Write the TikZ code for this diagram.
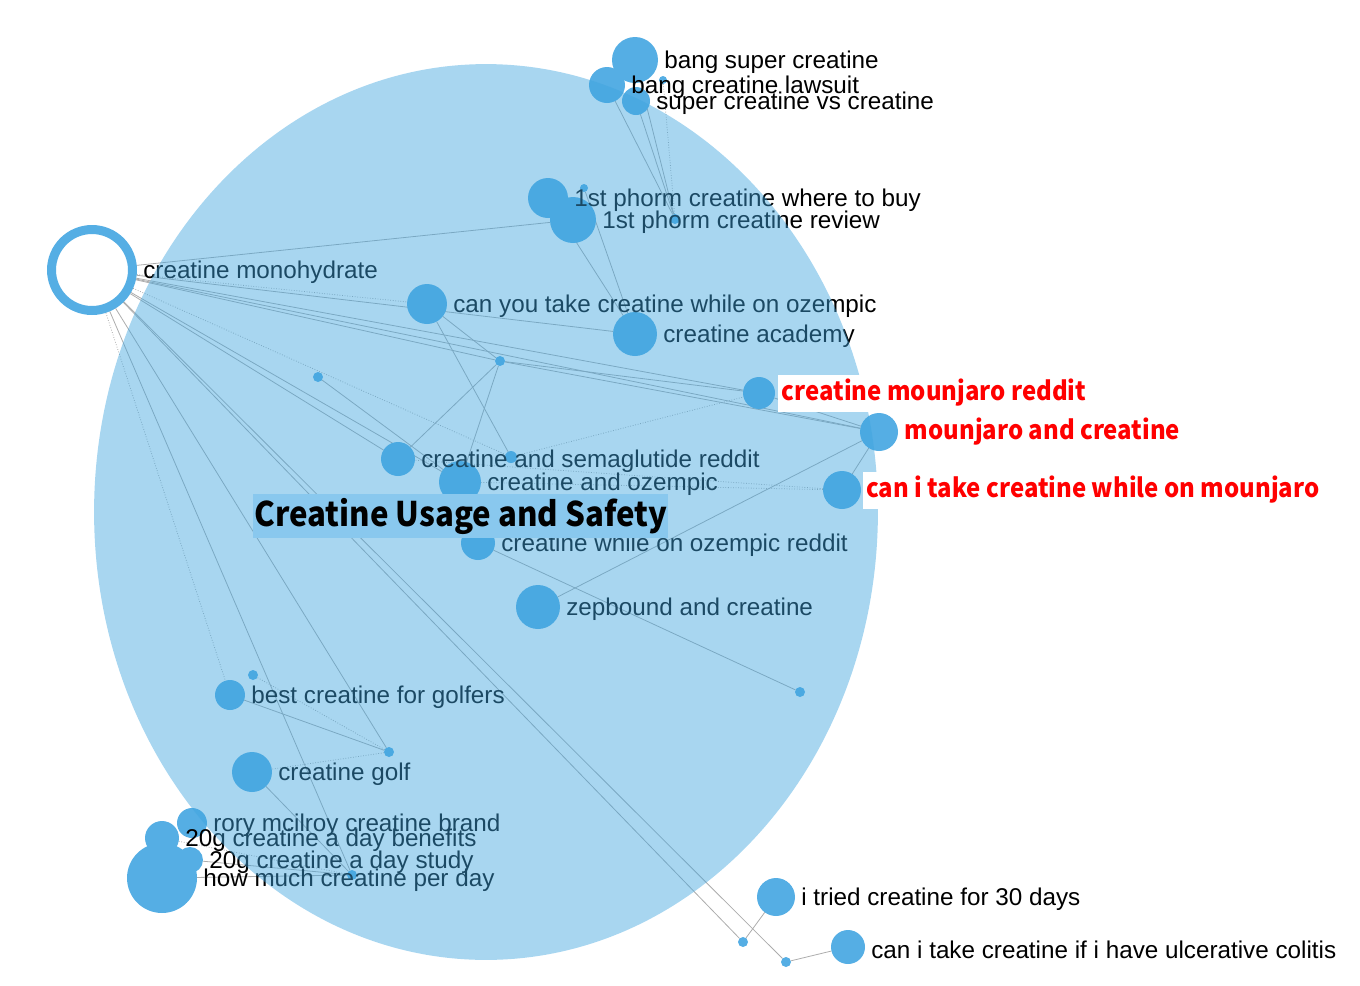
\documentclass[tikz,border=0pt]{standalone}
\usepackage{fontspec}
\setmainfont{Liberation Sans}
\newfontfamily\krfont{Noto Sans CJK KR}[FakeStretch=0.92]
\usetikzlibrary{positioning, shapes.geometric}

\definecolor{kwblue}{RGB}{85,174,228}
\definecolor{tintblue}{RGB}{62,164,222}
\definecolor{titleblue}{RGB}{137,200,238}
\definecolor{linkgray}{RGB}{172,172,172}

\pgfdeclarelayer{links}
\pgfsetlayers{links,main}

\tikzset{
  kw/.style={circle, fill=kwblue, inner sep=0pt, outer sep=0pt, minimum size=#1*0.4mm},
  kwtext/.style={inner sep=0pt, yshift=-0.5mm, font=\fontsize{13.8}{16}\selectfont},
  hot/.style={fill=white, text=red, inner xsep=2pt, inner ysep=0pt, minimum height=0.74cm,
    font=\krfont\bfseries\fontsize{14.8}{17}\selectfont},
  link/.style={draw=linkgray, line width=0.45pt},
  weak/.style={densely dotted},
  cluster/.style={ellipse, fill=tintblue, fill opacity=0.45, inner sep=0pt},
}

\begin{document}
\begin{tikzpicture}[x=0.02cm, y=-0.02cm]
    \useasboundingbox (0,0) rectangle (1360,985);

    % Keywords
    \node[kw=23] (bsc) at (635,60) {};
    \node[kw=18] (bcl) at (607,85) {};
    \node[kw=14] (scvc) at (636,101) {};
    \node[kw=4] (dA) at (663,80) {};
    \node[kw=20] (pwb) at (548,198) {};
    \node[kw=4] (dB) at (584,188) {};
    \node[kw=23] (prv) at (573,220) {};
    \node[kw=5] (dC) at (675,219) {};
    \node[circle, draw=kwblue, fill=white, line width=0.18cm, minimum size=1.62cm] (mono) at (92,270) {};
    \node[kw=20] (cyt) at (427,304) {};
    \node[kw=22] (acad) at (635,334) {};
    \node[kw=5] (dD) at (318,377) {};
    \node[kw=5] (dE) at (500,361) {};
    \node[kw=16] (cmr) at (759,393) {};
    \node[kw=19] (mac) at (879,432) {};
    \node[kw=19] (ctm) at (842,490) {};
    \node[kw=17] (sema) at (398,459) {};
    \node[kw=6] (dF) at (511,457) {};
    \node[kw=21] (coz) at (460,482) {};
    \node[kw=17] (corr) at (478,543) {};
    \node[kw=22] (zep) at (538,607) {};
    \node[kw=5] (dG) at (800,692) {};
    \node[kw=5] (dH) at (253,675) {};
    \node[kw=15] (bcg) at (230,695) {};
    \node[kw=5] (dI) at (389,752) {};
    \node[kw=20] (golf) at (252,772) {};
    \node[kw=15] (rory) at (192,823) {};
    \node[kw=17] (gben) at (162,838) {};
    \node[kw=13] (gstu) at (190,860) {};
    \node[kw=35] (hmc) at (162,878) {};
    \node[kw=5] (dJ) at (352,875) {};
    \node[kw=19] (tried) at (776,897) {};
    \node[kw=5] (dK) at (743,942) {};
    \node[kw=5] (dL) at (786,962) {};
    \node[kw=17] (colitis) at (848,947) {};

    % Labels
    \node[kwtext, right=1.2mm of bsc] (bsc-t) {bang super creatine};
    \node[kwtext, right=1.2mm of bcl] (bcl-t) {bang creatine lawsuit};
    \node[kwtext, right=1.2mm of scvc] (scvc-t) {super creatine vs creatine};
    \node[kwtext, right=1.2mm of pwb] (pwb-t) {1st phorm creatine where to buy};
    \node[kwtext, right=1.2mm of prv] (prv-t) {1st phorm creatine review};
    \node[kwtext, right=1.2mm of mono] (mono-t) {creatine monohydrate};
    \node[kwtext, right=1.2mm of cyt] (cyt-t) {can you take creatine while on ozempic};
    \node[kwtext, right=1.2mm of acad] (acad-t) {creatine academy};
    \node[kwtext, right=1.2mm of sema] (sema-t) {creatine and semaglutide reddit};
    \node[kwtext, right=1.2mm of coz] (coz-t) {creatine and ozempic};
    \node[kwtext, right=1.2mm of corr] (corr-t) {creatine while on ozempic reddit};
    \node[kwtext, right=1.2mm of zep] (zep-t) {zepbound and creatine};
    \node[kwtext, right=1.2mm of bcg] (bcg-t) {best creatine for golfers};
    \node[kwtext, right=1.2mm of golf] (golf-t) {creatine golf};
    \node[kwtext, right=1.2mm of rory] (rory-t) {rory mcilroy creatine brand};
    \node[kwtext, right=1.2mm of gben] (gben-t) {20g creatine a day benefits};
    \node[kwtext, right=1.2mm of gstu] (gstu-t) {20g creatine a day study};
    \node[kwtext, right=1.2mm of hmc] (hmc-t) {how much creatine per day};
    \node[kwtext, right=1.2mm of tried] (tried-t) {i tried creatine for 30 days};
    \node[kwtext, right=1.2mm of colitis] (colitis-t) {can i take creatine if i have ulcerative colitis};

    % Cluster
    \node[cluster, minimum width=15.68cm, minimum height=17.92cm] (clu) at (486,512) {};
    \node[fill=titleblue, inner xsep=0.02cm, inner ysep=0pt, minimum height=0.88cm, anchor=west,
      font=\krfont\bfseries\fontsize{19.3}{22}\selectfont] (clu-t) at (253,516) {Creatine Usage and Safety};

    % Highlighted keywords
    \node[hot, right=0.6mm of cmr] (cmr-t) {creatine mounjaro reddit};
    \node[hot, right=0.6mm of mac] (mac-t) {mounjaro and creatine};
    \node[hot, right=0.3mm of ctm] (ctm-t) {can i take creatine while on mounjaro};

    % Links
    \begin{pgfonlayer}{links}
    \path[link]
    (mono)
    edge (prv) edge [weak] (cyt) edge (acad) edge (dE) edge (cmr) edge (mac)
    edge (sema) edge (coz) edge [weak] (dF) edge [weak] (bcg)
    edge (dJ) edge (dI) edge (dK) edge (dL)

    (dC)
    edge (bsc) edge (bcl) edge (scvc) edge [weak] (dA)

    (acad)
    edge (pwb) edge (dB)

    (dE)
    edge (cyt) edge (sema) edge (coz) edge (mac) edge (cmr)

    (mac)
    edge (cmr) edge (ctm) edge (zep)

    (ctm)
    edge [weak] (coz) edge [weak] (sema)

    (dI)
    edge [weak] (dH) edge (bcg) edge [weak] (golf)

    (dJ)
    edge (golf) edge (hmc) edge (gstu) edge [weak] (gben)

    (cyt) edge (dF)
    (dF) edge [weak] (cmr)
    (dD) edge (coz)
    (corr) edge (dG)
    (tried) edge (dK)
    (colitis) edge (dL)
    ;
    \end{pgfonlayer}
\end{tikzpicture}
\end{document}
